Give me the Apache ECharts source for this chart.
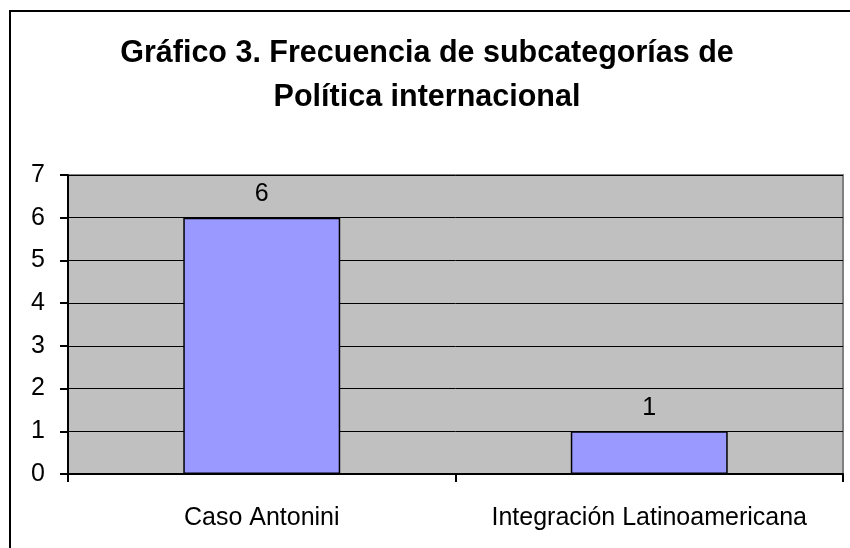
<!DOCTYPE html>
<html>
<head>
<meta charset="utf-8">
<script src="https://cdn.jsdelivr.net/npm/echarts@6/dist/echarts.min.js"></script>
<style>
html,body{margin:0;padding:0;background:#fff;}
#c{width:850px;height:548px;}
</style>
</head>
<body>
<div id="c"></div>
<script>
const titleText = 'Gráfico 3. Frecuencia de subcategorías de\nPolítica internacional';
const categories = ['Caso Antonini', 'Integración Latinoamericana'];
const values = [6, 1];
const yMin = 0, yMax = 7, yInterval = 1;

const chart = echarts.init(document.getElementById('c'), null, {renderer: 'canvas'});
const font = '"Liberation Sans", Arial, sans-serif';
chart.setOption({
  backgroundColor: '#ffffff',
  animation: false,
  title: {
    text: titleText,
    left: 422,
    textAlign: 'center',
    top: 27,
    textStyle: {fontFamily: font, fontWeight: 'bold', fontSize: 30.5, color: '#000', lineHeight: 44}
  },
  graphic: [{
    type: 'rect',
    shape: {x: 10, y: 11, width: 900, height: 600},
    style: {fill: 'none', stroke: '#000', lineWidth: 2},
    silent: true,
    z: -1
  }],
  grid: {
    left: 68, top: 175, right: 7, bottom: 74,
    show: true,
    backgroundColor: '#C0C0C0',
    borderColor: '#808080',
    borderWidth: 2
  },
  xAxis: {
    type: 'category',
    data: categories,
    axisLine: {show: true, lineStyle: {color: '#000', width: 2}},
    axisTick: {show: true, alignWithLabel: false, length: 8, lineStyle: {color: '#000', width: 2}},
    axisLabel: {fontFamily: font, fontSize: 25, color: '#000', margin: 32, interval: 0, hideOverlap: false},
    splitLine: {show: false}
  },
  yAxis: {
    type: 'value',
    min: yMin, max: yMax, interval: yInterval,
    axisLine: {show: true, lineStyle: {color: '#000', width: 2}},
    axisTick: {show: true, length: 8, lineStyle: {color: '#000', width: 2}},
    axisLabel: {fontFamily: font, fontSize: 25, color: '#000', margin: 23},
    splitLine: {show: true, lineStyle: {color: '#000', width: 1}}
  },
  series: [{
    type: 'bar',
    data: values,
    barWidth: '40.5%',
    itemStyle: {color: '#9999FF', borderColor: '#000', borderWidth: 1.5},
    label: {show: true, position: 'top', distance: 11, fontFamily: font, fontSize: 25, color: '#000'}
  }]
});
</script>
</body>
</html>
